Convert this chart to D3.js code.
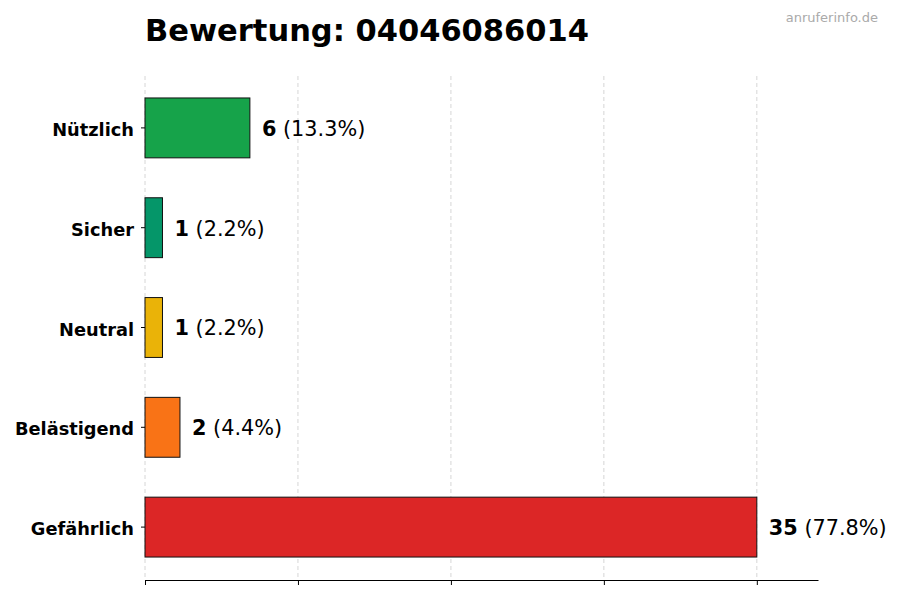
<!DOCTYPE html><html><head><meta charset="utf-8">
<script src="https://cdn.jsdelivr.net/npm/d3@7"></script>
<style>body{margin:0;background:#fff}</style></head><body>
<script>
const categories=["Nützlich","Sicher","Neutral","Belästigend","Gefährlich"];
const values=[6,1,1,2,35];
const percents=["13.3%","2.2%","2.2%","4.4%","77.8%"];
const colors=["#16a34a","#059669","#eab308","#f97316","#dc2626"];
const xTicks=[0,8.75,17.5,26.25,35];
const W=900,H=600,L=145,R=818,T=76,B=580;
const svg=d3.select("body").append("svg").attr("width",W).attr("height",H).style("font-family","DejaVu Sans");
const x=d3.scaleLinear().domain([0,38.5]).range([L,R]);
const y=d3.scaleBand().domain(categories).range([T+2,B-3]).paddingInner(0.4).paddingOuter(0.2);
svg.append("g").selectAll("line").data(xTicks).join("line")
 .attr("x1",d=>x(d)).attr("x2",d=>x(d)).attr("y1",T).attr("y2",B)
 .attr("stroke","#ccc").attr("stroke-dasharray","4,3").attr("stroke-width",0.8);
svg.append("g").attr("transform",`translate(0,${B})`).call(d3.axisBottom(x).tickValues(xTicks).tickFormat("").tickSize(5).tickSizeOuter(0))
 .call(g=>g.select(".domain").attr("stroke","#000"));
const ya=svg.append("g").attr("transform",`translate(${L},0)`).call(d3.axisLeft(y).tickSize(4).tickPadding(7));
ya.select(".domain").remove();
ya.selectAll("text").attr("font-size",17.8).attr("font-weight","bold").attr("fill","#000").attr("font-family","DejaVu Sans").attr("dy","0.45em");
svg.append("g").selectAll("rect").data(categories).join("rect")
 .attr("x",x(0)).attr("y",d=>y(d)).attr("width",(d,i)=>x(values[i])-x(0)).attr("height",y.bandwidth())
 .attr("fill",(d,i)=>colors[i]).attr("stroke","#111").attr("stroke-width",1);
const lab=svg.append("g").selectAll("text").data(categories).join("text")
 .attr("x",(d,i)=>x(values[i])+12).attr("y",d=>y(d)+y.bandwidth()/2).attr("dy","0.38em").attr("font-size",20.8);
lab.append("tspan").attr("font-weight","bold").text((d,i)=>values[i]);
lab.append("tspan").text((d,i)=>" ("+percents[i]+")");
svg.append("text").attr("x",L).attr("y",41).attr("font-size",30.5).attr("font-weight","bold").text("Bewertung: 04046086014");
svg.append("text").attr("x",878).attr("y",22).attr("text-anchor","end").attr("font-size",13).attr("fill","#aaa").text("anruferinfo.de");
</script></body></html>
